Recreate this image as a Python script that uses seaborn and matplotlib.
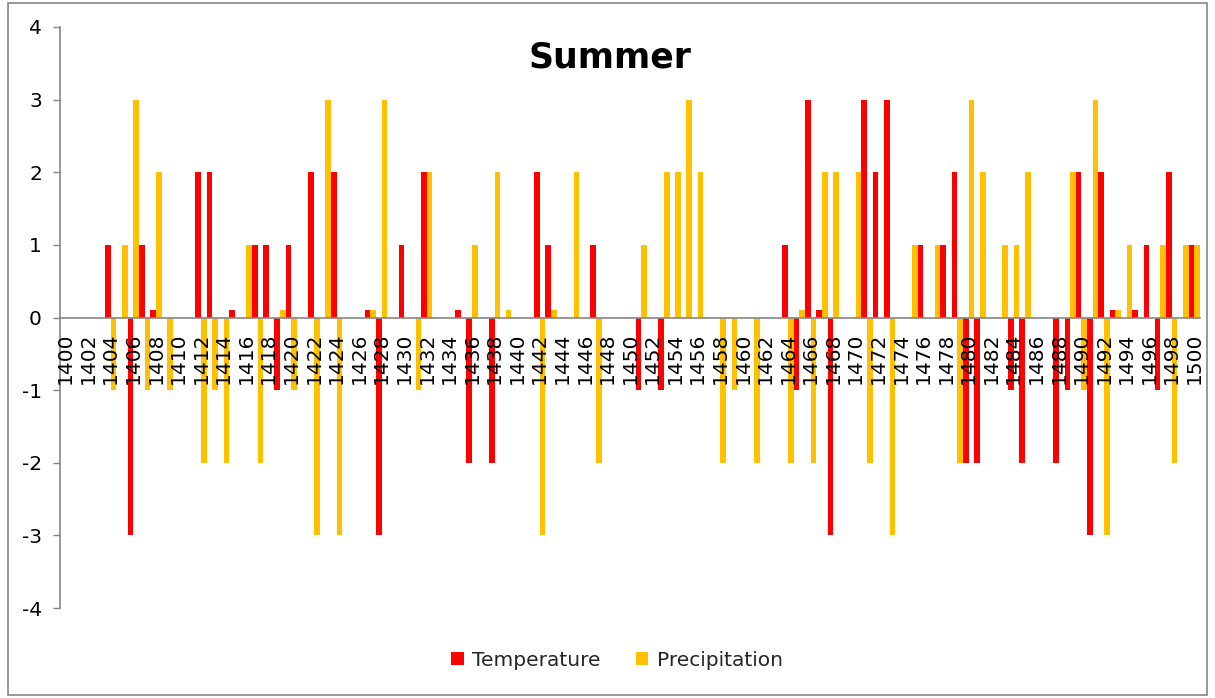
import matplotlib
matplotlib.use("Agg")
import matplotlib.pyplot as plt
import numpy as np
import pandas as pd
import seaborn as sns
from matplotlib.patches import Patch, Rectangle

years = list(range(1400, 1501))

temperature = [
    0, 0, 0, 0, 1, 0, -3, 1, 0.1, 0,
    0, 0, 2, 2, 0, 0.1, 0, 1, 1, -1,
    1, 0, 2, 0, 2, 0, 0, 0.1, -3, 0,
    1, 0, 2, 0, 0, 0.1, -2, 0, -2, 0,
    0, 0, 2, 1, 0, 0, 0, 1, 0, 0,
    0, -1, 0, -1, 0, 0, 0, 0, 0, 0,
    0, 0, 0, 0, 1, -1, 3, 0.1, -3, 0,
    0, 3, 2, 3, 0, 0, 1, 0, 1, 2,
    -2, -2, 0, 0, -1, -2, 0, 0, -2, -1,
    2, -3, 2, 0.1, 0, 0.1, 1, -1, 2, 0,
    1,
]

precipitation = [
    0, 0, 0, 0, -1, 1, 3, -1, 2, -1,
    0, 0, -2, -1, -2, 0, 1, -2, 0, 0.1,
    -1, 0, -3, 3, -3, 0, 0, 0.1, 3, 0,
    0, -1, 2, 0, 0, 0, 1, 0, 2, 0.1,
    0, 0, -3, 0.1, 0, 2, 0, -2, 0, 0,
    0, 1, 0, 2, 2, 3, 2, 0, -2, -1,
    0, -2, 0, 0, -2, 0.1, -2, 2, 2, 0,
    2, -2, 0, -3, 0, 1, 0, 1, 0, -2,
    3, 2, 0, 1, 1, 2, 0, 0, 0, 2,
    -1, 3, -3, 0.1, 1, 0, 0, 1, -2, 1,
    1,
]

series_names = ["Temperature", "Precipitation"]
colors = ["#FF0000", "#FFC000"]
y_ticks = [-4, -3, -2, -1, 0, 1, 2, 3, 4]

df = pd.DataFrame({
    "Year": [str(y) for y in years] * 2,
    "Series": [series_names[0]] * len(years) + [series_names[1]] * len(years),
    "Value": temperature + precipitation,
})

sns.set_theme(style="white")
plt.rcParams["font.family"] = ["DejaVu Sans"]

fig = plt.figure(figsize=(12.15, 6.98), dpi=100)
ax = fig.add_axes([60 / 1215, 1 - 608 / 698, 1140 / 1215, 581 / 698])

sns.barplot(
    data=df, x="Year", y="Value", hue="Series",
    order=[str(y) for y in years], hue_order=series_names,
    palette=colors, width=1.0, errorbar=None, legend=False,
    linewidth=0, ax=ax, saturation=1,
)

ax.set_axisbelow(False)
ax.set_xlim(-0.5, len(years) - 0.5)
ax.set_ylim(-4, 4)
ax.set_xlabel("")
ax.set_ylabel("")

axis_color = "#868686"
for s in ["top", "right"]:
    ax.spines[s].set_visible(False)
ax.spines["left"].set_color(axis_color)
ax.spines["left"].set_linewidth(1.2)
ax.spines["bottom"].set_color(axis_color)
ax.spines["bottom"].set_linewidth(1.2)
ax.spines["bottom"].set_position(("data", 0))

# x ticks
major_pos = list(range(0, len(years), 2))
ax.set_xticks(major_pos)
ax.set_xticklabels([str(years[i]) for i in major_pos], rotation=90, fontsize=14.5)
ax.set_xticks(np.arange(-0.5, len(years), 1.0), minor=True)
ax.tick_params(axis="x", which="major", length=0, pad=11, colors="black")
ax.tick_params(axis="x", which="minor", length=4, width=1, color=axis_color, direction="out")
for lbl in ax.get_xticklabels():
    lbl.set_verticalalignment("top")

# y ticks
ax.set_yticks(y_ticks)
ax.set_yticklabels([str(v) for v in y_ticks], fontsize=14.5)
ax.tick_params(axis="y", which="major", length=5, width=1, color=axis_color,
               direction="out", left=True, pad=8, labelcolor="black")

fig.text(610 / 1215, 1 - 58 / 698, "Summer", ha="center", va="center",
         fontsize=25, fontweight="bold", color="black")

handles = [Patch(facecolor=c, edgecolor="none") for c in colors]
fig.legend(handles, series_names, loc="center", ncol=2,
           bbox_to_anchor=(617 / 1215, 1 - 660 / 698), frameon=False,
           fontsize=14.5, handlelength=0.6, handleheight=0.6,
           handletextpad=0.4, columnspacing=1.8)

fig.patches.append(Rectangle((8 / 1215, 3 / 698), 1199 / 1215, 692 / 698,
                             transform=fig.transFigure, fill=False,
                             edgecolor="#868686", linewidth=1.2))

fig.savefig("out.png", dpi=100)
